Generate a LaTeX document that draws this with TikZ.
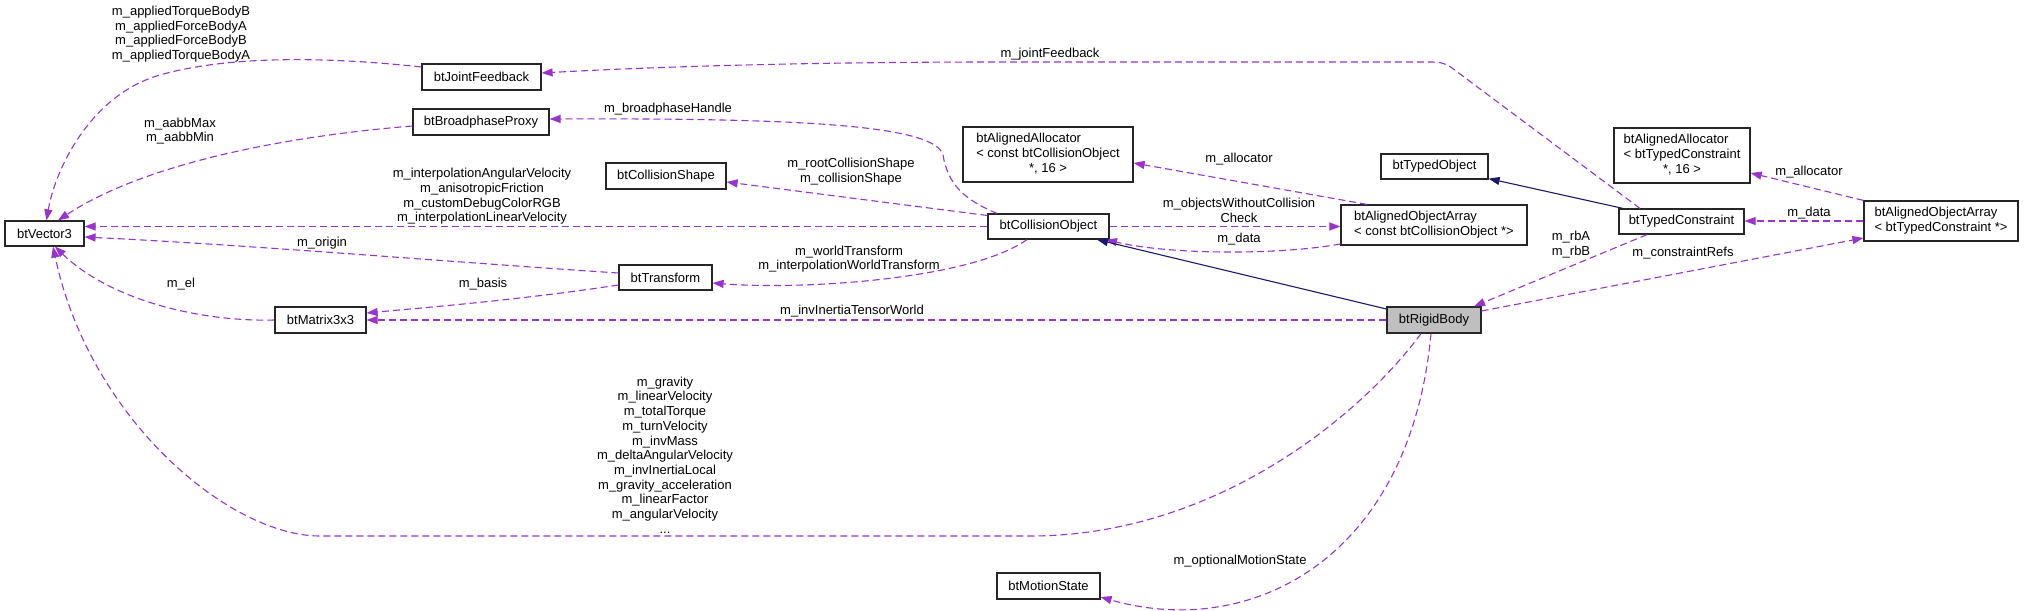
\documentclass[tikz,border=0pt]{standalone}
\usepackage{fontspec}
\setmainfont{Liberation Sans}
\usetikzlibrary{arrows.meta,calc}
\definecolor{edgep}{HTML}{9A32CD}
\definecolor{inh}{HTML}{191970}
\definecolor{rbfill}{HTML}{BFBFBF}
\begin{document}
\begin{tikzpicture}[x=1pt,y=-1pt,
  cls/.style={draw=black!85, line width=1.2pt, fill=white, inner sep=0pt, font=\fontsize{13}{15}\selectfont, text=black},
  lbl/.style={inner sep=0pt, align=center, font=\fontsize{13}{14.7}\selectfont, text=black},
  use/.style={draw=edgep, line width=1.1pt, dash pattern=on 7pt off 4pt, -{Triangle[length=11pt,width=8pt,fill=edgep]}},
  isa/.style={draw=inh, line width=1.1pt, -{Triangle[length=11pt,width=8pt,fill=inh]}}]
\useasboundingbox[fill=white] (0,0) rectangle (2044,610);

% classes
\node[cls, minimum width=79pt, minimum height=25pt] (vec) at (44.5,233.5) {btVector3};
\node[cls, minimum width=119pt, minimum height=26pt] (jf) at (481.5,77) {btJointFeedback};
\node[cls, minimum width=136pt, minimum height=26pt] (bp) at (481,122) {btBroadphaseProxy};
\node[cls, minimum width=120pt, minimum height=26pt] (cs) at (666,176) {btCollisionShape};
\node[cls, minimum width=170pt, minimum height=55pt] (aac) at (1048,154.5)
  {\begin{tabular}{@{}l@{}}btAlignedAllocator\\< const btCollisionObject\\\multicolumn{1}{@{}c@{}}{*, 16 >}\end{tabular}};
\node[cls, minimum width=121pt, minimum height=25pt] (co) at (1048.5,226.5) {btCollisionObject};
\node[cls, minimum width=93pt, minimum height=25pt] (tr) at (665.5,277.5) {btTransform};
\node[cls, minimum width=91pt, minimum height=26pt] (m33) at (320.5,320) {btMatrix3x3};
\node[cls, minimum width=107pt, minimum height=25pt] (to) at (1434.5,166.5) {btTypedObject};
\node[cls, minimum width=186pt, minimum height=40pt] (aoc) at (1434,225)
  {\begin{tabular}{@{}l@{}}btAlignedObjectArray\\< const btCollisionObject *>\end{tabular}};
\node[cls, minimum width=125pt, minimum height=25pt] (tc) at (1681.5,221.5) {btTypedConstraint};
\node[cls, minimum width=136pt, minimum height=55pt] (aat) at (1682,155.5)
  {\begin{tabular}{@{}l@{}}btAlignedAllocator\\< btTypedConstraint\\\multicolumn{1}{@{}c@{}}{*, 16 >}\end{tabular}};
\node[cls, minimum width=154pt, minimum height=40pt] (aot) at (1941,221)
  {\begin{tabular}{@{}l@{}}btAlignedObjectArray\\< btTypedConstraint *>\end{tabular}};
\node[cls, fill=rbfill, minimum width=94pt, minimum height=26pt] (rb) at (1434,320) {btRigidBody};
\node[cls, minimum width=103pt, minimum height=26pt] (ms) at (1048.5,586) {btMotionState};

% labels
\node[lbl] (l1) at (181,34) {m\_appliedTorqueBodyB\\m\_appliedForceBodyA\\m\_appliedForceBodyB\\m\_appliedTorqueBodyA};
\node[lbl] (l2) at (180,131) {m\_aabbMax\\m\_aabbMin};
\node[lbl] (l3) at (482,196.5) {m\_interpolationAngularVelocity\\m\_anisotropicFriction\\m\_customDebugColorRGB\\m\_interpolationLinearVelocity};
\node[lbl] (l4) at (322,243) {m\_origin};
\node[lbl] (l5) at (181,284) {m\_el};
\node[lbl] (l6) at (483,284) {m\_basis};
\node[lbl] (l7) at (668,109) {m\_broadphaseHandle};
\node[lbl] (l8) at (851,171.5) {m\_rootCollisionShape\\m\_collisionShape};
\node[lbl] (l9) at (849,259) {m\_worldTransform\\m\_interpolationWorldTransform};
\node[lbl] (l10) at (852,311) {m\_invInertiaTensorWorld};
\node[lbl] (l11) at (1050,54) {m\_jointFeedback};
\node[lbl] (l12) at (1239,159) {m\_allocator};
\node[lbl] (l13) at (1239,210.5) {m\_objectsWithoutCollision\\Check};
\node[lbl] (l14) at (1239,239) {m\_data};
\node[lbl] (l15) at (1809,172) {m\_allocator};
\node[lbl] (l16) at (1809,213) {m\_data};
\node[lbl] (l17) at (1571,244.5) {m\_rbA\\m\_rbB};
\node[lbl] (l18) at (1683,253) {m\_constraintRefs};
\node[lbl] (l19) at (665,455) {m\_gravity\\m\_linearVelocity\\m\_totalTorque\\m\_turnVelocity\\m\_invMass\\m\_deltaAngularVelocity\\m\_invInertiaLocal\\m\_gravity\_acceleration\\m\_linearFactor\\m\_angularVelocity\\...};
\node[lbl] (l20) at (1240,561) {m\_optionalMotionState};

% edges
\draw[use] ([yshift=10pt]jf.west) .. controls (330,57) and (230,55) .. (160,75)
  .. controls (90,95) and (55,170) .. ([xshift=2pt]vec.north);
\draw[use] ([yshift=-4pt]bp.west) .. controls (300,135) and (150,160) .. ([xshift=13.5pt]vec.north);
\draw[use] (co.west) -- (co.west -| vec.east);
\draw[use] ([yshift=4.5pt]tr.west) .. controls (450,262) and (250,245) .. ([yshift=-3.5pt]vec.east);
\draw[use] (m33.west) .. controls (200,322) and (110,300) .. ([xshift=10.5pt]vec.south);
\draw[use] ([yshift=-7.5pt]tr.west) .. controls (520,300) and (420,308) .. ([yshift=7pt]m33.east);
\draw[use] (rb.west) -- (m33.east);
\draw[use] ([xshift=-51.5pt]co.north) .. controls (965,200) and (948,185) .. (943,155)
  .. controls (935,125) and (800,118) .. ([yshift=3pt]bp.east);
\draw[use] ([yshift=11pt]co.west) -- ([yshift=-6pt]cs.east);
\draw[use] ([xshift=-21.5pt]co.south) .. controls (970,280) and (800,290) .. ([yshift=-5.5pt]tr.east);
\draw[use] ([yshift=-19pt]aoc.west) .. controls (1280,255) and (1170,255) .. ([xshift=57.5pt]co.south);
\draw[use] (co.east) -- (co.east -| aoc.west);
\draw[use] ([xshift=-67pt]aoc.north) -- ([yshift=-8.5pt]aac.east);
\draw[isa] ([yshift=11pt]rb.west) -- ([xshift=48.5pt]co.south);
\draw[isa] ([xshift=-58.5pt]tc.north) -- ([yshift=1pt]to.south east);
\draw[use] ([xshift=-41.5pt]tc.north) -- (1452,68) .. controls (1445,63) and (1440,62) .. (1430,62)
  -- (1000,62) .. controls (800,62) and (650,67) .. ([yshift=4pt]jf.east);
\draw[use] (aot.west) -- (aot.west -| tc.east);
\draw[use] (aot.north west) -- ([yshift=-17.5pt]aat.east);
\draw[use] ([yshift=9pt]rb.east) -- ([yshift=-17pt]aot.west);
\draw[use] ([xshift=-34.5pt]tc.south) -- ([xshift=40pt]rb.north);
\draw[use] ([xshift=-13pt]rb.south) .. controls (1365,410) and (1220,536) .. (1030,536)
  -- (320,536) .. controls (230,536) and (90,420) .. ([xshift=8.5pt]vec.south);
\draw[use] ([xshift=-3pt]rb.south) .. controls (1410,560) and (1250,640) .. ([yshift=-11pt]ms.east);
\end{tikzpicture}
\end{document}
